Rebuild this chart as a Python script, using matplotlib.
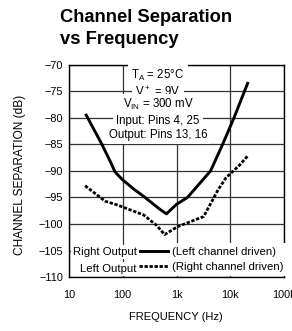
import matplotlib
matplotlib.use("Agg")
import matplotlib.pyplot as plt
from matplotlib.ticker import FixedLocator, FixedFormatter

plt.rcParams['font.family'] = ['Liberation Sans', 'DejaVu Sans']
plt.rcParams['mathtext.fontset'] = 'custom'
plt.rcParams['mathtext.rm'] = 'Liberation Sans'
plt.rcParams['mathtext.it'] = 'Liberation Sans'

# solid: right output (left channel driven)
right_freq = [21, 41, 58.5, 72, 100, 159, 245, 500, 650, 1000, 1600, 4300, 7200, 11700, 21000]
right_db = [-79.5, -85, -88.2, -90.2, -91.7, -93.4, -94.8, -97.3, -98.1, -96.3, -95, -90, -85, -80, -73.5]

# dashed: left output (right channel driven)
left_freq = [20, 47, 78, 245, 430, 600, 1050, 3200, 5900, 8300, 14900, 21000]
left_db = [-92.8, -95.7, -96.4, -98.3, -100.3, -102, -100.5, -98.6, -93.6, -91.3, -88.9, -87.2]

xticks = [10, 100, 1000, 10000, 100000]
xtick_labels = ["10", "100", "1k", "10k", "100k"]
yticks = [-70, -75, -80, -85, -90, -95, -100, -105, -110]

cond_lines = ["$T_A$ = 25\u00b0C", "$V^+$ = 9V", "$V_{IN}$ = 300 mV",
              "Input: Pins 4, 25", "Output: Pins 13, 16"]
cond_y = [0.951, 0.873, 0.812, 0.735, 0.669]

fig = plt.figure(figsize=(2.92, 3.31), dpi=100)
ax = fig.add_axes([0.236, 0.163, 0.737, 0.6415])

ax.set_xscale('log')
ax.set_xlim(10, 100000)
ax.set_ylim(-110, -70)
ax.xaxis.set_major_locator(FixedLocator(xticks))
ax.xaxis.set_major_formatter(FixedFormatter(xtick_labels))
ax.xaxis.set_minor_locator(FixedLocator([]))
ax.set_yticks(yticks)
ax.set_yticklabels([f"\u2212{abs(v)}" for v in yticks])
ax.tick_params(length=0, labelsize=7.8, pad=4)
ax.tick_params(axis='x', pad=9)
ax.grid(True, color='#333333', lw=0.9)
for s in ax.spines.values():
    s.set_linewidth(1.0)

l1, = ax.plot(right_freq, right_db, color='black', lw=2.1)
l2, = ax.plot(left_freq, left_db, color='black', lw=2.0, dashes=(1.2, 0.6))

for t, y in zip(cond_lines, cond_y):
    ax.text(0.414, y, t, transform=ax.transAxes, ha='center', va='center',
            fontsize=8.3, zorder=5,
            bbox=dict(facecolor='white', edgecolor='none', pad=2.2))

leg = ax.legend([l1, l2], ["(Left channel driven)", "(Right channel driven)"],
                loc='lower left', bbox_to_anchor=(0.301, 0.0), fontsize=8.2,
                frameon=True, fancybox=False, framealpha=1, edgecolor='none',
                borderpad=0.35, borderaxespad=0.1, handlelength=2.6,
                handletextpad=0.3, labelspacing=0.45)
leg.set_zorder(6)

ax.text(0.316, 0.118, "Right Output", transform=ax.transAxes, ha='right', va='center',
        fontsize=8.2, zorder=7, bbox=dict(facecolor='white', edgecolor='none', pad=1.5))
ax.text(0.316, 0.038, "Left Output", transform=ax.transAxes, ha='right', va='center',
        fontsize=8.2, zorder=7, bbox=dict(facecolor='white', edgecolor='none', pad=1.5))

fig.text(0.205, 1 - 22 / 331, "Channel Separation", fontsize=13.2, fontweight='bold', va='baseline')
fig.text(0.205, 1 - 44 / 331, "vs Frequency", fontsize=13.2, fontweight='bold', va='baseline')
fig.text(20 / 292, 1 - 175 / 331, "CHANNEL SEPARATION (dB)", rotation=90,
         ha='center', va='center', fontsize=8.6)
fig.text(176 / 292, 1 - 317 / 331, "FREQUENCY (Hz)", ha='center', va='center', fontsize=8)

fig.savefig("out.png", dpi=100)
